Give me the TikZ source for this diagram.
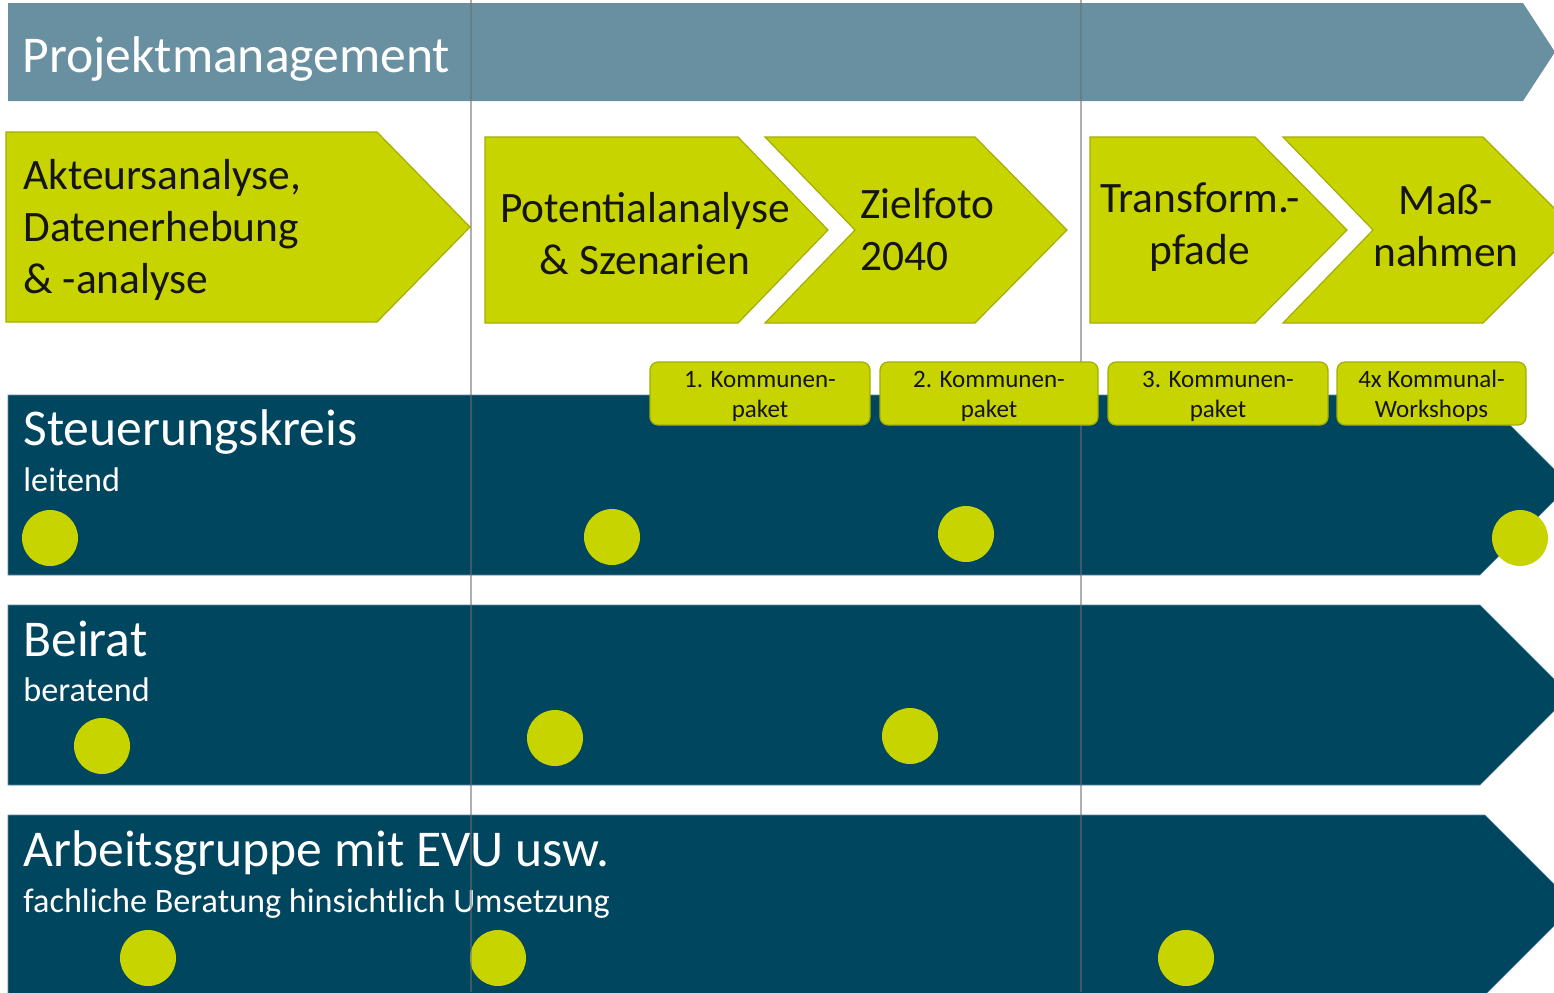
\documentclass[tikz,border=0pt]{standalone}
\usepackage{fontspec}
\setmainfont{Carlito}
\definecolor{pmband}{HTML}{6890A0}
\definecolor{lane}{HTML}{00465F}
\definecolor{laneedge}{HTML}{5A8CA5}
\definecolor{lime}{HTML}{C8D400}
\definecolor{limeedge}{HTML}{A3AE00}
\definecolor{txt}{HTML}{151515}
\definecolor{vline}{HTML}{6E6E6E}
\begin{document}
\begin{tikzpicture}[x=0.5pt,y=-0.5pt,
  phase/.style={fill=lime,draw=limeedge,line width=0.6pt},
  laneshape/.style={fill=lane,draw=laneedge,line width=0.3pt},
  phasetext/.style={inner sep=0pt,text=txt,font=\fontsize{21.7}{26}\selectfont},
  lanetitle/.style={inner sep=0pt,anchor=base west,text=white,font=\fontsize{25.8}{30}\selectfont},
  lanesub/.style={inner sep=0pt,anchor=base west,text=white,font=\fontsize{17.1}{20}\selectfont},
  pkg/.style={rectangle,rounded corners=4pt,fill=lime,draw=limeedge,line width=0.6pt,
    minimum height=31.5pt,inner sep=0pt,align=center,text=txt,
    font=\fontsize{12.5}{15}\selectfont},
  dot/.style={circle,fill=lime,minimum size=28pt,inner sep=0pt},
  grid/.style={draw=vline,draw opacity=0.55,line width=0.7pt}]
\useasboundingbox (0,0) rectangle (1554,992);
\begin{scope}
\clip (0,0) rectangle (1554,992);
% Projektmanagement band
\fill[pmband] (8,3) -- (1523,3) -- (1555,52) -- (1523,101) -- (8,101) -- cycle;
\node[lanetitle,font=\fontsize{25.8}{30}\selectfont] (pm) at (22,72) {Projektmanagement};

% phase arrows
\draw[phase] (6,132) -- (377,132) -- (470,227) -- (377,322) -- (6,322) -- cycle;
\draw[phase] (485,137) -- (738,137) -- (828,230) -- (738,323) -- (485,323) -- cycle;
\draw[phase] (765,137) -- (975,137) -- (1067,230) -- (975,323) -- (765,323) -- (855,230) -- cycle;
\draw[phase] (1090,137) -- (1255,137) -- (1347,230) -- (1255,323) -- (1090,323) -- cycle;
\draw[phase] (1283,137) -- (1483,137) -- (1576,230) -- (1483,323) -- (1283,323) -- (1373,230) -- cycle;

\node[phasetext,anchor=base west] (p1) at (23,189)
  {\begin{tabular}[t]{@{}l@{}}Akteursanalyse,\\Datenerhebung\\\& -analyse\end{tabular}};
\node[phasetext,anchor=base] (p2) at (645,222)
  {\begin{tabular}[t]{@{}c@{}}Potentialanalyse\\\& Szenarien\end{tabular}};
\node[phasetext,anchor=base west] (p3) at (860,218)
  {\begin{tabular}[t]{@{}l@{}}Zielfoto\\2040\end{tabular}};
\node[phasetext,anchor=base] (p4) at (1200,212)
  {\begin{tabular}[t]{@{}c@{}}Transform.-\\pfade\end{tabular}};
\node[phasetext,anchor=base] (p5) at (1446,214)
  {\begin{tabular}[t]{@{}c@{}}Maß-\\nahmen\end{tabular}};

% lanes
\draw[laneshape] (8,395) -- (1480,395) -- (1570,485) -- (1480,575) -- (8,575) -- cycle;
\draw[laneshape] (8,605) -- (1480,605) -- (1570,695) -- (1480,785) -- (8,785) -- cycle;
\draw[laneshape] (8,815) -- (1485,815) -- (1575,905) -- (1485,995) -- (8,995) -- cycle;

\node[lanetitle] (t1) at (23,445) {Steuerungskreis};
\node[lanesub] (s1) at (23,491) {leitend};
\node[lanetitle] (t2) at (23,656) {Beirat};
\node[lanesub] (s2) at (23,701) {beratend};
\node[lanetitle] (t3) at (23,866) {Arbeitsgruppe mit EVU usw.};
\node[lanesub] (s3) at (23,912) {fachliche Beratung hinsichtlich Umsetzung};

% milestones
\node[dot] (d11) at (50,538) {};
\node[dot] (d12) at (612,537) {};
\node[dot] (d13) at (966,534) {};
\node[dot] (d14) at (1520,538) {};
\node[dot] (d21) at (102,746) {};
\node[dot] (d22) at (555,738) {};
\node[dot] (d23) at (910,736) {};
\node[dot] (d31) at (148,958) {};
\node[dot] (d32) at (498,958) {};
\node[dot] (d33) at (1186,958) {};

% vertical separators
\coordinate (g1t) at (471,0); \coordinate (g1b) at (471,992);
\coordinate (g2t) at (1081,0); \coordinate (g2b) at (1081,992);
\draw[grid] (g1t) -- (g1b);
\draw[grid] (g2t) -- (g2b);

% Kommunen packages
\node[pkg,minimum width=110pt] (k1) at (760,393.5) {\rule{0pt}{11pt}1. Kommunen-\\paket};
\node[pkg,minimum width=109pt] (k2) at (989,393.5) {\rule{0pt}{11pt}2. Kommunen-\\paket};
\node[pkg,minimum width=110pt] (k3) at (1218,393.5) {\rule{0pt}{11pt}3. Kommunen-\\paket};
\node[pkg,minimum width=94.5pt] (k4) at (1431.5,393.5) {\rule{0pt}{11pt}4x Kommunal-\\Workshops};
\end{scope}
\end{tikzpicture}
\end{document}
